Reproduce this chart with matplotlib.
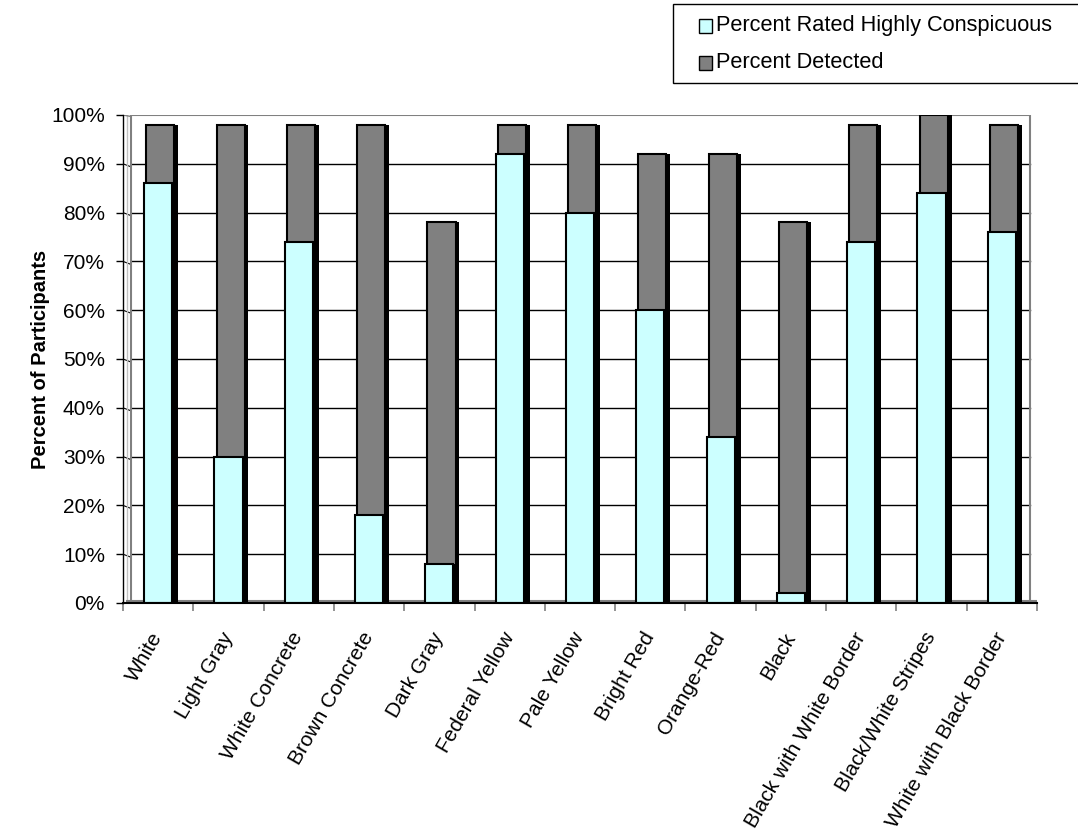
import numpy as np
import matplotlib
matplotlib.use("Agg")
import matplotlib.pyplot as plt
from matplotlib.patches import Rectangle

plt.rcParams['font.family'] = ['Liberation Sans', 'DejaVu Sans']

categories = ['White', 'Light Gray', 'White Concrete', 'Brown Concrete', 'Dark Gray',
              'Federal Yellow', 'Pale Yellow', 'Bright Red', 'Orange-Red', 'Black',
              'Black with White Border', 'Black/White Stripes', 'White with Black Border']
rated = [86, 30, 74, 18, 8, 92, 80, 60, 34, 2, 74, 84, 76]
detected = [98, 98, 98, 98, 78, 98, 98, 92, 92, 78, 98, 100, 98]
yticks = [0, 10, 20, 30, 40, 50, 60, 70, 80, 90, 100]

W, H = 1078, 834
fig = plt.figure(figsize=(W / 100, H / 100), dpi=100)
ax = fig.add_axes([123 / W, (H - 603) / H, (1037 - 123) / W, 488 / H])

x = np.arange(len(categories)) + 0.5
bw = 0.4
side = 0.055
off = 0.03

# back wall and gridlines
wl, wr = 0.11, 12.9
for v in yticks[1:-1]:
    ax.plot([wl, wr], [v, v], color='black', lw=1, zorder=1)
    ax.plot([0, wl], [v, v - 0.6], color='black', lw=0.8, zorder=1)
ax.plot([wl, wr, wr], [100, 100, 0], color='#808080', lw=1.5, zorder=1)
ax.plot([wl, wl], [0, 100], color='#808080', lw=1.5, zorder=1)
ax.plot([0.055, 0.055], [0, 100], color='#c0c0c0', lw=1, zorder=1)
ax.plot([0, wl], [100, 99.7], color='#808080', lw=1, zorder=1)
ax.plot([0.05, 13], [0.45, 0.45], color='#808080', lw=1.5, zorder=1)
ax.plot([wr, 13.0], [0.3, 0.0], color='#808080', lw=1, zorder=1)

# gray series (behind)
ax.bar(x + off + bw / 2 + side / 2, detected, side, color='black', lw=0, zorder=2)
ax.bar(x + off, detected, bw, color='#808080', edgecolor='black', lw=1.5, zorder=2)
# cyan series (front)
ax.bar(x + bw / 2 + side / 2, rated, side, color='black', lw=0, zorder=3)
ax.bar(x, rated, bw, color='#CCFFFF', edgecolor='black', lw=1.5, zorder=3)

ax.set_xlim(0, 13)
ax.set_ylim(0, 100)
for s in ['top', 'right']:
    ax.spines[s].set_visible(False)
ax.spines['left'].set_linewidth(1)
ax.spines['bottom'].set_linewidth(1.5)
ax.spines['left'].set_zorder(5)
ax.spines['bottom'].set_zorder(5)

ax.set_yticks(yticks)
ax.set_yticklabels([f'{v}%' for v in yticks], fontsize=15)
ax.tick_params(axis='y', direction='out', length=5, width=1, color='black', pad=8)

ax.set_xticks(np.arange(len(categories) + 1))
ax.set_xticklabels([])
ax.tick_params(axis='x', which='major', direction='out', length=6, width=1.2, color='#808080')
ax.set_xticks(x, minor=True)
ax.set_xticklabels(categories, minor=True, rotation=60, ha='right', va='center',
                   rotation_mode='anchor', fontsize=15)
ax.tick_params(axis='x', which='minor', length=0, pad=22)

ax.set_ylabel('Percent of Participants', fontsize=14.5, fontweight='bold', labelpad=1)

# legend box
fig.patches.append(Rectangle((673 / W, 1 - 83 / H), 500 / W, 79 / H, transform=fig.transFigure,
                             facecolor='white', edgecolor='black', lw=1))
legend_items = [('Percent Rated Highly Conspicuous', '#CCFFFF', 26),
                ('Percent Detected', '#808080', 63)]
for label, col, yc in legend_items:
    fig.patches.append(Rectangle((699 / W, 1 - (yc + 6.5) / H), 13 / W, 13 / H,
                                 transform=fig.transFigure, facecolor=col,
                                 edgecolor='black', lw=1))
    fig.text(716 / W, 1 - yc / H, label, fontsize=15.7, va='center', ha='left')

fig.savefig('out.png', dpi=100)
